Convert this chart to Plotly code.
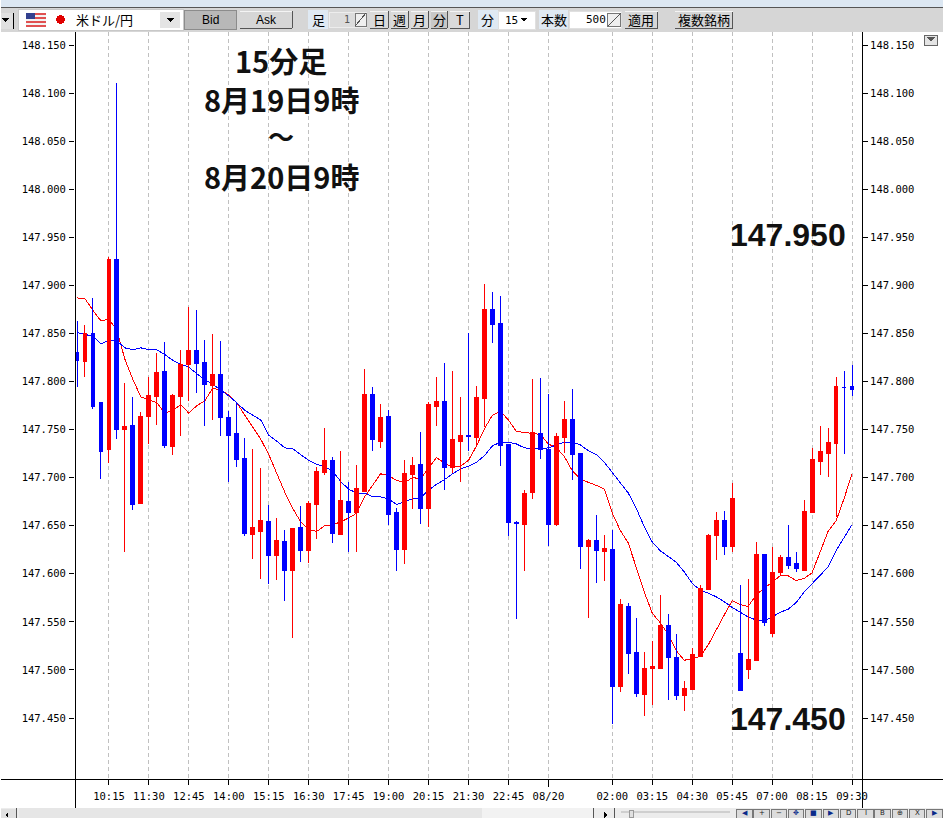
import plotly.graph_objects as go

# --- chart values -----------------------------------------------------------
open_ = [147.830,147.821,147.850,147.778,147.729,147.927,147.750,147.754,147.673,147.764,147.784,147.810,147.732,147.784,147.818,147.832,147.820,147.796,147.807,147.763,147.746,147.720,147.641,147.644,147.654,147.619,147.634,147.603,147.648,147.624,147.672,147.705,147.718,147.641,147.675,147.664,147.686,147.787,147.738,147.764,147.664,147.625,147.703,147.714,147.668,147.774,147.779,147.711,147.738,147.744,147.742,147.782,147.875,147.860,147.735,147.653,147.651,147.685,147.746,147.729,147.651,147.742,147.761,147.725,147.628,147.635,147.623,147.625,147.483,147.566,147.518,147.474,147.501,147.502,147.546,147.513,147.473,147.480,147.514,147.584,147.640,147.655,147.628,147.517,147.500,147.510,147.620,147.538,147.601,147.617,147.611,147.603,147.664,147.717,147.725,147.736,147.794,147.795]
high = [147.863,147.859,147.887,147.778,147.930,148.111,147.798,147.784,147.768,147.805,147.830,147.841,147.787,147.833,147.877,147.874,147.843,147.849,147.842,147.769,147.779,147.741,147.730,147.710,147.672,147.658,147.646,147.648,147.671,147.676,147.711,147.752,147.722,147.728,147.695,147.713,147.813,147.794,147.777,147.770,147.668,147.718,147.722,147.748,147.779,147.805,147.819,147.811,147.784,147.850,147.795,147.901,147.893,147.889,147.735,147.655,147.687,147.803,147.804,147.787,147.746,147.780,147.792,147.726,147.636,147.661,147.640,147.646,147.574,147.570,147.554,147.519,147.530,147.578,147.558,147.537,147.488,147.523,147.588,147.641,147.664,147.665,147.694,147.588,147.595,147.633,147.620,147.628,147.620,147.651,147.623,147.677,147.731,147.754,147.752,147.805,147.811,147.817]
low = [147.794,147.805,147.771,147.699,147.715,147.740,147.623,147.666,147.673,147.735,147.755,147.731,147.724,147.743,147.780,147.788,147.754,147.760,147.743,147.696,147.711,147.639,147.615,147.595,147.589,147.594,147.572,147.533,147.612,147.611,147.636,147.703,147.632,147.640,147.623,147.623,147.686,147.728,147.731,147.651,147.603,147.610,147.667,147.652,147.649,147.754,147.687,147.705,147.696,147.728,147.732,147.753,147.840,147.712,147.639,147.553,147.603,147.678,147.719,147.629,147.650,147.726,147.698,147.605,147.554,147.590,147.592,147.444,147.477,147.496,147.472,147.452,147.464,147.502,147.469,147.469,147.457,147.480,147.514,147.584,147.614,147.620,147.623,147.478,147.491,147.510,147.546,147.534,147.598,147.605,147.602,147.603,147.664,147.703,147.701,147.659,147.725,147.785]
close = [147.822,147.850,147.774,147.727,147.927,147.750,147.753,147.672,147.764,147.785,147.809,147.733,147.785,147.818,147.832,147.819,147.797,147.807,147.763,147.744,147.719,147.642,147.648,147.655,147.619,147.635,147.603,147.647,147.624,147.673,147.706,147.718,147.642,147.676,147.664,147.689,147.786,147.740,147.763,147.662,147.625,147.704,147.713,147.668,147.776,147.779,147.711,147.740,147.744,147.743,147.783,147.875,147.859,147.733,147.653,147.652,147.684,147.747,147.729,147.651,147.743,147.761,147.724,147.628,147.635,147.624,147.626,147.483,147.568,147.517,147.475,147.501,147.504,147.546,147.513,147.473,147.481,147.516,147.585,147.640,147.655,147.628,147.678,147.479,147.511,147.620,147.549,147.601,147.617,147.609,147.605,147.665,147.719,147.727,147.737,147.795,147.794,147.792]

ma_red = [147.887,147.886,147.874,147.863,147.865,147.853,147.823,147.802,147.784,147.781,147.778,147.767,147.770,147.776,147.767,147.775,147.780,147.793,147.791,147.786,147.778,147.765,147.752,147.740,147.724,147.704,147.685,147.668,147.654,147.646,147.644,147.650,147.651,147.654,147.658,147.663,147.680,147.692,147.704,147.702,147.697,147.695,147.700,147.699,147.710,147.721,147.715,147.711,147.712,147.718,147.733,147.751,147.765,147.769,147.760,147.748,147.747,147.746,147.745,147.735,147.731,147.722,147.707,147.699,147.695,147.692,147.688,147.663,147.645,147.632,147.606,147.581,147.559,147.549,147.537,147.520,147.510,147.512,147.514,147.526,147.542,147.557,147.572,147.568,147.566,147.578,147.585,147.591,147.598,147.598,147.593,147.595,147.601,147.623,147.644,147.655,147.678,147.704]
ma_blue = [147.851,147.849,147.847,147.839,147.843,147.842,147.835,147.833,147.835,147.833,147.833,147.828,147.822,147.818,147.815,147.808,147.802,147.797,147.791,147.785,147.778,147.770,147.765,147.760,147.744,147.738,147.731,147.730,147.724,147.718,147.714,147.711,147.707,147.696,147.688,147.684,147.684,147.680,147.680,147.678,147.672,147.675,147.678,147.679,147.687,147.693,147.698,147.704,147.709,147.712,147.716,147.723,147.733,147.737,147.737,147.735,147.731,147.730,147.730,147.731,147.734,147.737,147.737,147.734,147.728,147.724,147.716,147.705,147.694,147.684,147.668,147.649,147.633,147.624,147.618,147.612,147.602,147.590,147.583,147.580,147.576,147.571,147.565,147.560,147.555,147.552,147.551,147.555,147.560,147.563,147.570,147.581,147.590,147.599,147.607,147.624,147.637,147.651]

tick_index = [4,9,14,19,24,29,34,39,44,49,54,59,67,72,77,82,87,92,97]
tick_text = ["10:15","11:30","12:45","14:00","15:15","16:30","17:45","19:00","20:15","21:30","22:45","08/20","02:00","03:15","04:30","05:45","07:00","08:15","09:30"]
price_ticks = [147.45,147.50,147.55,147.60,147.65,147.70,147.75,147.80,147.85,147.90,147.95,148.00,148.05,148.10,148.15]
headline = ["15分足","8月19日9時","～","8月20日9時"]
high_label = "147.950"
low_label = "147.450"

# --- layout constants -------------------------------------------------------
W, H = 944, 818
L, R, T, B = 74.5, 862.5, 32, 779
X_RANGE = [(L - 76.5) / 8, (R - 76.5) / 8]
Y_RANGE = [147.45 - (B - 718) / 961.4, 147.45 + (718 - T) / 961.4]
index = list(range(len(close)))
RED, BLUE = "#ff0000", "#0000ff"
MONO = "DejaVu Sans Mono"
CJK = "Noto Sans CJK JP"

fx = lambda px: (px - L) / (R - L)
fy = lambda py: (B - py) / (B - T)
shapes, notes = [], []


def rect(x0, y0, x1, y1, fill, line=None, lw=1):
    shapes.append(dict(type="rect", xref="paper", yref="paper", x0=fx(x0), x1=fx(x1), y0=fy(y0), y1=fy(y1),
                       fillcolor=fill, line=dict(color=line or "rgba(0,0,0,0)", width=lw if line else 0), layer="above"))


def seg(x0, y0, x1, y1, color="#000000", lw=1):
    shapes.append(dict(type="line", xref="paper", yref="paper", x0=fx(x0), x1=fx(x1), y0=fy(y0), y1=fy(y1),
                       line=dict(color=color, width=lw), layer="above"))


def tri(cx, cy, size=4, color="#000000", direction="down"):
    if direction == "down":
        pts = [(cx - size, cy - size / 2), (cx + size, cy - size / 2), (cx, cy + size / 2)]
    elif direction == "right":
        pts = [(cx - size / 2, cy - size), (cx + size / 2, cy), (cx - size / 2, cy + size)]
    else:
        pts = [(cx + size / 2, cy - size), (cx - size / 2, cy), (cx + size / 2, cy + size)]
    path = "M " + " L ".join(f"{fx(a):.5f},{fy(b):.5f}" for a, b in pts) + " Z"
    shapes.append(dict(type="path", xref="paper", yref="paper", path=path, fillcolor=color, line=dict(width=0), layer="above"))


def text(px, py, s, size=12, font=CJK, anchor="center", color="#000000", bold=False):
    notes.append(dict(xref="paper", yref="paper", x=fx(px), y=fy(py), text=f"<b>{s}</b>" if bold else s, showarrow=False,
                      xanchor=anchor, yanchor="middle", font=dict(family=font, size=size, color=color),
                      borderpad=0, borderwidth=0))


def button(x0, x1, label, fill="#d6d6d6", size=13, font=CJK):
    rect(x0, 11, x1, 28, fill)
    seg(x1, 11, x1, 28, "#555555")
    seg(x0, 28, x1, 28, "#555555")
    seg(x0, 11, x1, 11, "#f4f4f4")
    text((x0 + x1) / 2, 19.5, label, size=size, font=font)


# chrome: top band and toolbar
rect(0, 0, W, 6.5, "#dce7f2")
seg(0, 7, W, 7, "#555555")
rect(0, 8, W, 32, "#d6d6d6")
rect(0, 13, 13, 29, "#e0e0e0")
seg(13, 13, 13, 29, "#000000")
tri(5, 20, 3.5)
rect(18, 9, 183, 30, "#ffffff", "#c8c8c8")
for k in range(7):
    rect(25, 12.5 + k * 2, 45, 14.5 + k * 2, "#e05050" if k % 2 == 0 else "#f2f2f2")
rect(25, 12.5, 34, 19, "#33408f")
rect(60 - 4.5, 15, 60 + 4.5, 24, "#e00000")
shapes[-1].update(type="circle")
text(76, 19, "米ドル/円", size=13, anchor="left")
rect(160, 12, 180, 28, "#e4e4e4")
tri(170, 20, 3.5)
rect(184, 10, 236, 29, "#b8b8b8", "#8c8c8c")
text(210, 20, "Bid", size=12, font="Liberation Sans")
button(240, 292, "Ask", size=12, font="Liberation Sans")
rect(308, 10, 328, 29, "#dfe9f3")
text(318, 19.5, "足", size=13)
rect(329, 12, 366, 27, "#dcdcdc", "#ededed")
text(350, 19.5, "1", size=10, font=MONO, anchor="right", color="#555555")
rect(355, 13, 366, 26, "#efefef", "#777777")
seg(355, 26, 366, 13, "#555555")
for x0, x1, lab in [(370, 388, "日"), (391, 408, "週"), (411, 428, "月"), (450, 470, "T")]:
    button(x0, x1, lab, fill="#dadada")
button(431, 447, "分", fill="#c8c8c8")
rect(478, 10, 498, 29, "#dfe9f3")
text(488, 19.5, "分", size=13)
rect(499, 11, 536, 29, "#ffffff", "#e0e0e0")
text(505, 20, "15", size=11, font=MONO, anchor="left")
tri(524, 20, 3.5)
rect(539, 10, 568, 29, "#dfe9f3")
text(554, 19.5, "本数", size=13)
rect(570, 11, 622, 28, "#ffffff", "#e0e0e0")
text(606, 19.5, "500", size=11, font=MONO, anchor="right")
rect(608, 13, 621, 26, "#efefef", "#777777")
seg(608, 26, 621, 13, "#555555")
button(625, 658, "適用")
button(675, 733, "複数銘柄")

# chrome: bottom bar
rect(0, 808, W, 818, "#ececec")
rect(18, 808, 482, 818, "#e6e6e6")
rect(0, 809, 16, 818, "#e0e0e0")
seg(16, 808, 16, 818, "#555555")
tri(6, 815, 3, direction="left")
rect(482, 808, 594, 818, "#f2f2f2")
seg(594, 808, 594, 818, "#555555")
tri(606, 815, 3, direction="right")
seg(615, 808, 615, 818, "#555555")
rect(621, 811, 730, 813, "#cfcfcf")
rect(630, 810, 634, 817, "#e0e0e0", "#999999")
for i, g in enumerate(["◀", "+", "−", "✥", "■", "▶", "D", "I", "B", "⊕", "X", "▶"]):
    x0 = 737 + i * 17.3
    rect(x0, 809, x0 + 15.5, 818, "#dcdcdc", "#777777")
    text(x0 + 8, 813, g, size=7, font="DejaVu Sans", color="#0a2a8a" if i not in (1, 2, 6, 7, 8, 9, 10) else "#222222")

# chrome: small collapse button top right
rect(925, 35, 938, 45, "#e4e4e4", "#666666")
tri(931.5, 39.5, 4, color="#555555")

# frame lines that run past the plot
seg(L, T, L, 808)
seg(R, T, R, 808)
seg(0, B, W, B)
seg(548.5, B, 548.5, 787)

# large labels
for (py, s, size) in zip([60, 99, 136, 176], headline, [29, 29, 26, 29]):
    text(281, py, s, size=size, font=CJK, bold=True, color="#111111")
text(788.5, 235, high_label, size=32, font="Liberation Sans", bold=True, color="#111111")
text(788.5, 719, low_label, size=32, font="Liberation Sans", bold=True, color="#111111")

fig = go.Figure()
fig.add_trace(go.Scatter(x=index, y=ma_red, mode="lines", line=dict(color=RED, width=1), showlegend=False))
fig.add_trace(go.Scatter(x=index, y=ma_blue, mode="lines", line=dict(color=BLUE, width=1), showlegend=False))
fig.add_trace(go.Candlestick(
    x=index, open=open_, high=high, low=low, close=close, xaxis="x2", yaxis="y2",
    increasing=dict(line=dict(color=RED, width=1), fillcolor=RED),
    decreasing=dict(line=dict(color=BLUE, width=1), fillcolor=BLUE),
    whiskerwidth=0, showlegend=False,
))

tick_font = dict(family=MONO, size=10.5, color="#000000")
fig.update_layout(
    width=W, height=H, margin=dict(l=L, r=W - R, t=T, b=H - B),
    paper_bgcolor="#ffffff", plot_bgcolor="#ffffff", showlegend=False, boxgap=0.3,
    xaxis=dict(range=X_RANGE, tickmode="array", tickvals=tick_index, ticktext=tick_text, showgrid=True,
               gridcolor="#c0c0c0", griddash="4px,3px", gridwidth=1, ticks="outside", ticklen=5, tickcolor="#000000",
               tickfont=tick_font, showline=False, zeroline=False, rangeslider=dict(visible=False), tickangle=0,
               ticklabelstandoff=2),
    yaxis=dict(range=Y_RANGE, tickmode="array", tickvals=price_ticks, ticktext=[f"{v:.3f}" for v in price_ticks],
               showgrid=False, ticks="outside", ticklen=5, tickcolor="#000000", tickfont=tick_font,
               showline=False, zeroline=False, ticklabelstandoff=1),
    xaxis2=dict(range=X_RANGE, overlaying="x", visible=False, rangeslider=dict(visible=False)),
    yaxis2=dict(range=Y_RANGE, overlaying="y", side="right", tickmode="array", tickvals=price_ticks,
                ticktext=[f"{v:.3f}" for v in price_ticks], showgrid=False, ticks="outside", ticklen=5,
                tickcolor="#000000", tickfont=tick_font, showline=False, zeroline=False),
    shapes=shapes, annotations=notes,
)

crisp = ("var s=document.createElement('style');"
         "s.textContent='.scatterlayer path,.boxlayer path,.gridlayer path,.shapelayer path{shape-rendering:crispEdges}';"
         "document.head.appendChild(s);"
         "document.body.style.margin='0';document.body.style.overflow='hidden';")
fig.write_html("out.html", config=dict(displayModeBar=False), post_script=crisp)
